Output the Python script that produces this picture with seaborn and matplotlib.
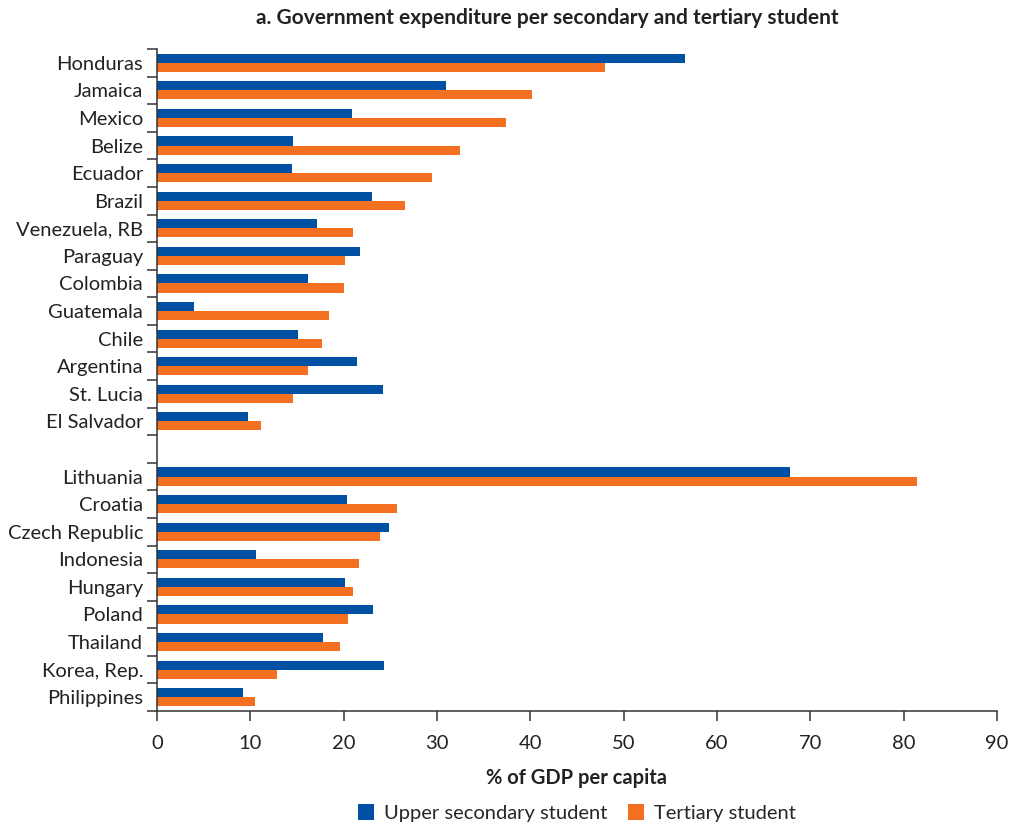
import pandas as pd
import matplotlib.pyplot as plt
import seaborn as sns

countries = ["Honduras", "Jamaica", "Mexico", "Belize", "Ecuador", "Brazil",
             "Venezuela, RB", "Paraguay", "Colombia", "Guatemala", "Chile",
             "Argentina", "St. Lucia", "El Salvador",
             "Lithuania", "Croatia", "Czech Republic", "Indonesia", "Hungary",
             "Poland", "Thailand", "Korea, Rep.", "Philippines"]
upper_secondary = [56.6, 31.0, 20.9, 14.6, 14.5, 23.0, 17.1, 21.8, 16.2, 4.0,
                   15.1, 21.4, 24.2, 9.75,
                   67.8, 20.4, 24.9, 10.6, 20.1, 23.1, 17.8, 24.3, 9.2]
tertiary = [48.0, 40.2, 37.4, 32.5, 29.5, 26.6, 21.0, 20.1, 20.0, 18.4,
            17.7, 16.2, 14.6, 11.1,
            81.4, 25.7, 23.9, 21.6, 21.0, 20.5, 19.6, 12.9, 10.5]
series_names = ["Upper secondary student", "Tertiary student"]

# blank slot separating the two country groups
order = countries[:14] + [" "] + countries[14:]

df = pd.DataFrame({"country": countries * 2,
                   "value": upper_secondary + tertiary,
                   "series": [series_names[0]] * len(countries) + [series_names[1]] * len(countries)})

sns.set_style("white")
plt.rcParams["font.family"] = ["Lato", "DejaVu Sans"]
axis_color = "#333333"
text_color = "#222222"
fs = 14.5

fig = plt.figure(figsize=(10.12, 8.25), dpi=100)
ax = fig.add_axes([157 / 1012, 1 - 711 / 825, 840 / 1012, 662 / 825])

sns.barplot(data=df, y="country", x="value", hue="series", order=order,
            hue_order=series_names, palette=["#0050a4", "#f37021"], saturation=1,
            orient="h", width=0.66, linewidth=0, ax=ax, legend=True)

ax.set_xlim(0, 90)
ax.set_ylim(len(order) - 0.5, -0.5)
ax.set_xticks(range(0, 91, 10))
ax.set_yticks(range(len(order)))
ax.set_yticklabels(order)
ax.set_yticks([i - 0.5 for i in range(len(order) + 1)], minor=True)
ax.tick_params(axis="y", which="major", length=0, labelsize=fs, colors=text_color, pad=10)
ax.tick_params(axis="y", which="minor", length=7, width=1.1, color=axis_color, left=True)
ax.tick_params(axis="x", length=7, width=1.1, color=axis_color, labelsize=fs,
               labelcolor=text_color, pad=10, bottom=True)

for side in ["top", "right"]:
    ax.spines[side].set_visible(False)
for side in ["left", "bottom"]:
    ax.spines[side].set_color(axis_color)
    ax.spines[side].set_linewidth(1.1)

ax.set_ylabel("")
ax.set_xlabel("% of GDP per capita", fontsize=fs, fontweight="bold", labelpad=12, color=text_color)

handles, labels = ax.get_legend_handles_labels()
ax.legend_.remove()
fig.legend(handles, labels, loc="center", bbox_to_anchor=(577 / 1012, 1 - 813 / 825),
           ncol=2, frameon=False, fontsize=fs, handlelength=0.8, handleheight=0.8,
           columnspacing=1.0, handletextpad=0.5)

fig.text(547 / 1012, 1 - 18 / 825, "a. Government expenditure per secondary and tertiary student",
         ha="center", va="center", fontsize=15, fontweight="bold", color=text_color)

fig.savefig("out.png", dpi=100)
